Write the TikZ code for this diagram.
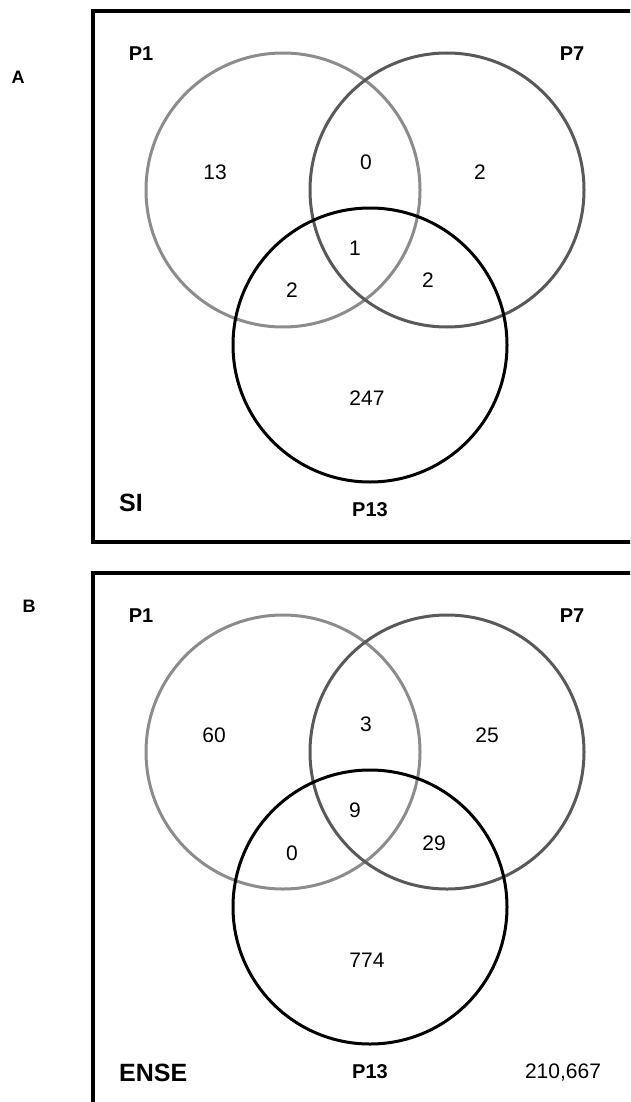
\documentclass[tikz,border=0pt]{standalone}
\usepackage{fontspec}
\setmainfont{Liberation Sans}
\begin{document}
\begin{tikzpicture}[x=1pt,y=-1pt,
  frame/.style={draw=black,line width=3.2pt},
  setA/.style={draw=black!45,line width=3pt},
  setB/.style={draw=black!65,line width=3pt},
  setC/.style={draw=black,line width=3pt},
  num/.style={inner sep=0pt,font=\fontsize{21}{21}\selectfont},
  setlabel/.style={inner sep=0pt,font=\fontsize{20}{20}\selectfont\bfseries},
  corner/.style={inner sep=0pt,anchor=west,font=\fontsize{25}{25}\selectfont\bfseries},
  panel/.style={inner sep=0pt,font=\fontsize{18}{18}\selectfont\bfseries}]
\useasboundingbox (0,0) rectangle (630,1102);
\clip (0,0) rectangle (630,1102);
% Panel A
\begin{scope}
  \coordinate (a1) at (283,190);
  \coordinate (a7) at (447,190);
  \coordinate (a13) at (370,345);
  \draw[frame] (93,11) rectangle (660,542);
  \draw[setA] (a1) circle[radius=137];
  \draw[setB] (a7) circle[radius=137];
  \draw[setC] (a13) circle[radius=137];
  \node[panel] (pa) at (18,77) {A};
  \node[setlabel] (ap1) at (141,54) {P1};
  \node[setlabel] (ap7) at (572,54) {P7};
  \node[setlabel] (ap13) at (370,510) {P13};
  \node[corner] (asi) at (119,503) {SI};
  \node[num] (an1) at (215,172) {13};
  \node[num] (an2) at (366,162) {0};
  \node[num] (an3) at (480,172) {2};
  \node[num] (an4) at (355,248) {1};
  \node[num] (an5) at (292,290) {2};
  \node[num] (an6) at (428,280) {2};
  \node[num] (an7) at (367,398) {247};
\end{scope}
% Panel B
\begin{scope}[yshift=-562pt]
  \coordinate (b1) at (283,190);
  \coordinate (b7) at (447,190);
  \coordinate (b13) at (370,345);
  \draw[frame] (93,11) rectangle (660,542);
  \draw[setA] (b1) circle[radius=137];
  \draw[setB] (b7) circle[radius=137];
  \draw[setC] (b13) circle[radius=137];
  \node[panel] (pb) at (29,44) {B};
  \node[setlabel] (bp1) at (141,54) {P1};
  \node[setlabel] (bp7) at (572,54) {P7};
  \node[setlabel] (bp13) at (370,510) {P13};
  \node[corner] (bse) at (119,511) {ENSE};
  \node[num] (btot) at (563,510) {210,667};
  \node[num] (bn1) at (214,173) {60};
  \node[num] (bn2) at (366,162) {3};
  \node[num] (bn3) at (487,173) {25};
  \node[num] (bn4) at (355,248) {9};
  \node[num] (bn5) at (292,291) {0};
  \node[num] (bn6) at (434,281) {29};
  \node[num] (bn7) at (367,398) {774};
\end{scope}
\end{tikzpicture}
\end{document}
